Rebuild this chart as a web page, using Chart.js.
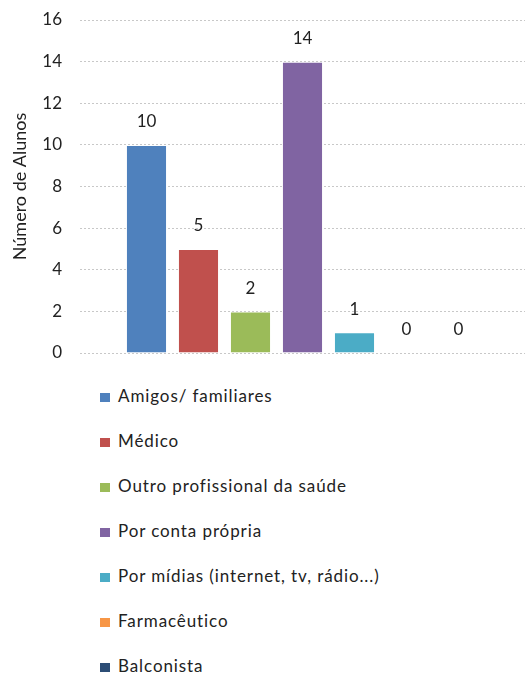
<!DOCTYPE html>
<html>
<head>
<meta charset="utf-8">
<script src="https://cdn.jsdelivr.net/npm/chart.js@4/dist/chart.umd.min.js"></script>
<style>
  html, body { margin: 0; padding: 0; background: #fff; }
  #wrap { position: relative; width: 528px; height: 675px; }
  #box { position: absolute; left: 0; top: 0; width: 528px; height: 370px; }
  #legend { position: absolute; left: 100px; top: 385px; margin: 0; padding: 0; list-style: none;
            font-family: Lato, "Liberation Sans", sans-serif; font-size: 17px; letter-spacing: 0.9px; color: #222; }
  #legend li { height: 45px; display: flex; align-items: flex-start; white-space: nowrap; }
  #legend .sw { width: 10px; height: 9px; margin-right: 8px; margin-top: 8px; flex: none; }
</style>
</head>
<body>
<div id="wrap">
  <div id="box"><canvas id="c"></canvas></div>
  <ul id="legend"></ul>
</div>
<script>
// Sources of information reported by the students
const sources = [
  'Amigos/ familiares',
  'Médico',
  'Outro profissional da saúde',
  'Por conta própria',
  'Por mídias (internet, tv, rádio...)',
  'Farmacêutico',
  'Balconista'
];
const counts = [10, 5, 2, 14, 1, 0, 0];
const colors = ['#4F81BD', '#C0504D', '#9BBB59', '#8064A2', '#4BACC6', '#F79646', '#2C4D75'];
const yTicks = [0, 2, 4, 6, 8, 10, 12, 14, 16];
const yTitle = 'Número de Alunos';

const FONT = 'Lato, "Liberation Sans", sans-serif';

// Value written above each bar
const valueLabels = {
  id: 'valueLabels',
  afterDatasetsDraw(chart) {
    const ctx = chart.ctx;
    ctx.save();
    ctx.font = '17px ' + FONT;
    ctx.fillStyle = '#222';
    ctx.textAlign = 'center';
    ctx.textBaseline = 'middle';
    chart.data.datasets.forEach((ds, i) => {
      const meta = chart.getDatasetMeta(i);
      meta.data.forEach((el, j) => {
        ctx.fillText(String(ds.data[j]), el.x, el.y - 23);
      });
    });
    ctx.restore();
  }
};

const chart = new Chart(document.getElementById('c'), {
  type: 'bar',
  data: {
    labels: [''],
    datasets: sources.map((s, i) => ({
      label: s,
      data: [counts[i]],
      backgroundColor: colors[i],
      borderColor: 'rgba(255,255,255,0.35)',
      borderWidth: 1,
      categoryPercentage: 0.818,
      barPercentage: 0.79
    }))
  },
  options: {
    responsive: true,
    maintainAspectRatio: false,
    animation: false,
    layout: { padding: { top: 20, right: 3, bottom: 17, left: 0 } },
    plugins: {
      legend: { display: false },
      tooltip: { enabled: false }
    },
    scales: {
      x: { display: false },
      y: {
        min: 0, max: 16,
        afterBuildTicks(scale) { scale.ticks = yTicks.map(v => ({ value: v })); },
        afterFit(scale) { scale.width = 80; },
        border: { display: false, dash: [2, 2] },
        grid: { color: '#c8c8c8', drawTicks: true, tickLength: 18, tickColor: 'rgba(0,0,0,0)', lineWidth: 1 },
        ticks: { padding: 0, color: '#222', font: { family: FONT, size: 17 } },
        title: {
          display: true, text: yTitle, color: '#222',
          font: { family: FONT, size: 18 }, padding: { top: 9, bottom: 0 }
        }
      }
    }
  },
  plugins: [valueLabels]
});

// Legend list built from the chart's datasets
const ul = document.getElementById('legend');
chart.data.datasets.forEach(ds => {
  const li = document.createElement('li');
  const sw = document.createElement('span');
  sw.className = 'sw';
  sw.style.background = ds.backgroundColor;
  const tx = document.createElement('span');
  tx.textContent = ds.label;
  li.appendChild(sw);
  li.appendChild(tx);
  ul.appendChild(li);
});
</script>
</body>
</html>
